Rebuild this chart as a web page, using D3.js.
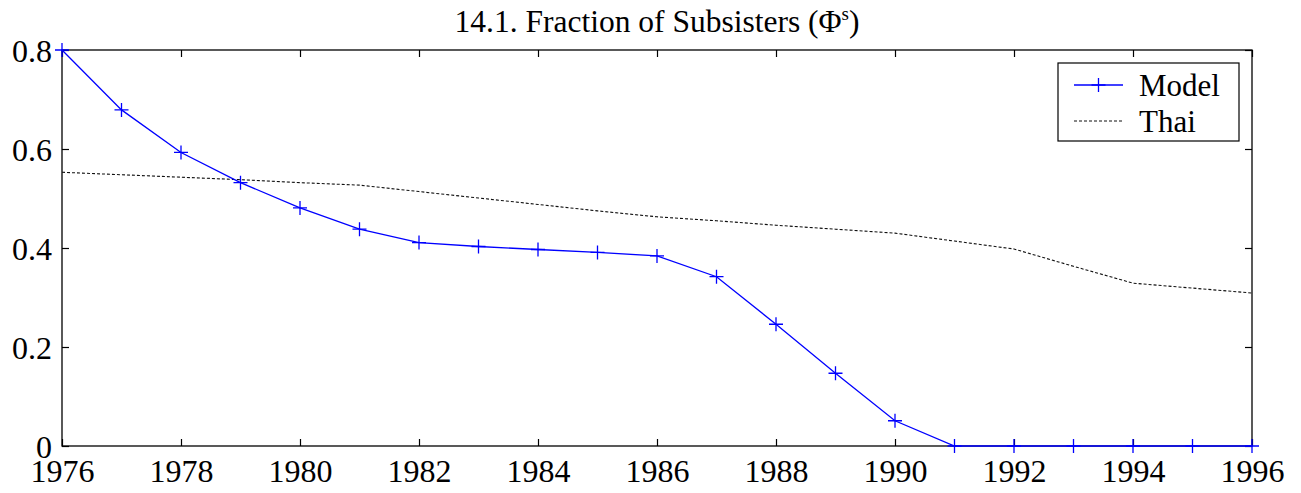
<!DOCTYPE html>
<html><head><meta charset="utf-8">
<script src="https://cdn.jsdelivr.net/npm/d3@7"></script>
<style>body{margin:0;background:#fff}svg{display:block}</style>
</head><body>
<svg id="c" width="1301" height="493" font-family="Liberation Serif, Times New Roman, serif"></svg>
<script>
const years = d3.range(1976, 1997);
const modelValues = [0.800,0.679,0.593,0.532,0.481,0.438,0.411,0.403,0.397,0.391,0.384,0.342,0.246,0.147,0.051,0,0,0,0,0,0];
const thaiValues = [0.553,0.548,0.543,0.538,0.532,0.527,0.514,0.501,0.488,0.475,0.463,0.455,0.446,0.438,0.430,0.414,0.398,0.363,0.329,0.319,0.309];
const xTicks = d3.range(1976, 1997, 2);
const yTicks = [0, 0.2, 0.4, 0.6, 0.8];
const seriesNames = ["Model", "Thai"];
const titleText = "14.1. Fraction of Subsisters (Φ";

const FONT = "Liberation Serif";
const svg = d3.select("#c");
const L = 62, R = 1252, T = 50, B = 446;
const x = d3.scaleLinear().domain([1976, 1996]).range([L, R]);
const y = d3.scaleLinear().domain([0, 0.8]).range([B, T]);

svg.append("rect").attr("x", L).attr("y", T).attr("width", R - L).attr("height", B - T)
  .attr("fill", "none").attr("stroke", "#000").attr("stroke-width", 1.3);

const fs = 32;
const gx = svg.append("g").attr("transform", `translate(0,${B})`)
  .call(d3.axisBottom(x).tickValues(xTicks).tickFormat(d3.format("d")).tickSizeInner(-7).tickSizeOuter(0).tickPadding(13));
const gxt = svg.append("g").attr("transform", `translate(0,${T})`)
  .call(d3.axisTop(x).tickValues(xTicks).tickFormat("").tickSizeInner(-7).tickSizeOuter(0));
const gy = svg.append("g").attr("transform", `translate(${L},0)`)
  .call(d3.axisLeft(y).tickValues(yTicks).tickFormat(d => d === 0 ? "0" : d3.format(".1f")(d)).tickSizeInner(-7).tickSizeOuter(0).tickPadding(10));
const gyr = svg.append("g").attr("transform", `translate(${R},0)`)
  .call(d3.axisRight(y).tickValues(yTicks).tickFormat("").tickSizeInner(-7).tickSizeOuter(0));
[gx, gxt, gy, gyr].forEach(g => {
  g.attr("font-family", FONT).attr("font-size", fs);
  g.select(".domain").remove();
  g.selectAll(".tick line").attr("stroke", "#000").attr("stroke-width", 1.2);
  g.selectAll("text").attr("fill", "#000");
});
gx.selectAll("text").attr("dy", "0.71em");
gy.selectAll("text").attr("dy", "0.35em");

const line = d3.line().x((d, i) => x(years[i])).y(d => y(d));
svg.append("path").datum(thaiValues).attr("d", line).attr("fill", "none")
  .attr("stroke", "#111").attr("stroke-width", 1.1).attr("stroke-dasharray", "3,2");

svg.append("path").datum(modelValues).attr("d", line).attr("fill", "none")
  .attr("stroke", "#0000ff").attr("stroke-width", 1.3);
const ms = 7;
svg.append("g").selectAll("path").data(modelValues).join("path")
  .attr("d", (d, i) => { const cx = x(years[i]), cy = y(d); return `M${cx - ms},${cy}H${cx + ms}M${cx},${cy - ms}V${cy + ms}`; })
  .attr("stroke", "#0000ff").attr("stroke-width", 1.3).attr("fill", "none");

const title = svg.append("text").attr("x", (L + R) / 2).attr("y", 32).attr("text-anchor", "middle")
  .attr("font-family", FONT).attr("font-size", 31.5).attr("fill", "#000");
title.append("tspan").text(titleText);
title.append("tspan").text("s").attr("font-size", 19).attr("dy", -12);
title.append("tspan").text(")").attr("dy", 12);

const lg = svg.append("g").attr("font-family", FONT);
lg.append("rect").attr("x", 1058).attr("y", 63).attr("width", 181).attr("height", 78)
  .attr("fill", "#fff").attr("stroke", "#000").attr("stroke-width", 1.2);
const ly = [85, 121];
lg.append("line").attr("x1", 1074).attr("x2", 1123).attr("y1", ly[0]).attr("y2", ly[0]).attr("stroke", "#0000ff").attr("stroke-width", 1.3);
lg.append("path").attr("d", `M${1098.5 - ms},${ly[0]}H${1098.5 + ms}M${1098.5},${ly[0] - ms}V${ly[0] + ms}`).attr("stroke", "#0000ff").attr("stroke-width", 1.3);
lg.append("line").attr("x1", 1074).attr("x2", 1123).attr("y1", ly[1]).attr("y2", ly[1]).attr("stroke", "#111").attr("stroke-width", 1.1).attr("stroke-dasharray", "3,2");
seriesNames.forEach((n, i) => {
  lg.append("text").attr("x", 1139).attr("y", ly[i]).attr("dy", "0.35em").attr("font-size", 31).attr("fill", "#000").text(n);
});
</script>
</body></html>
